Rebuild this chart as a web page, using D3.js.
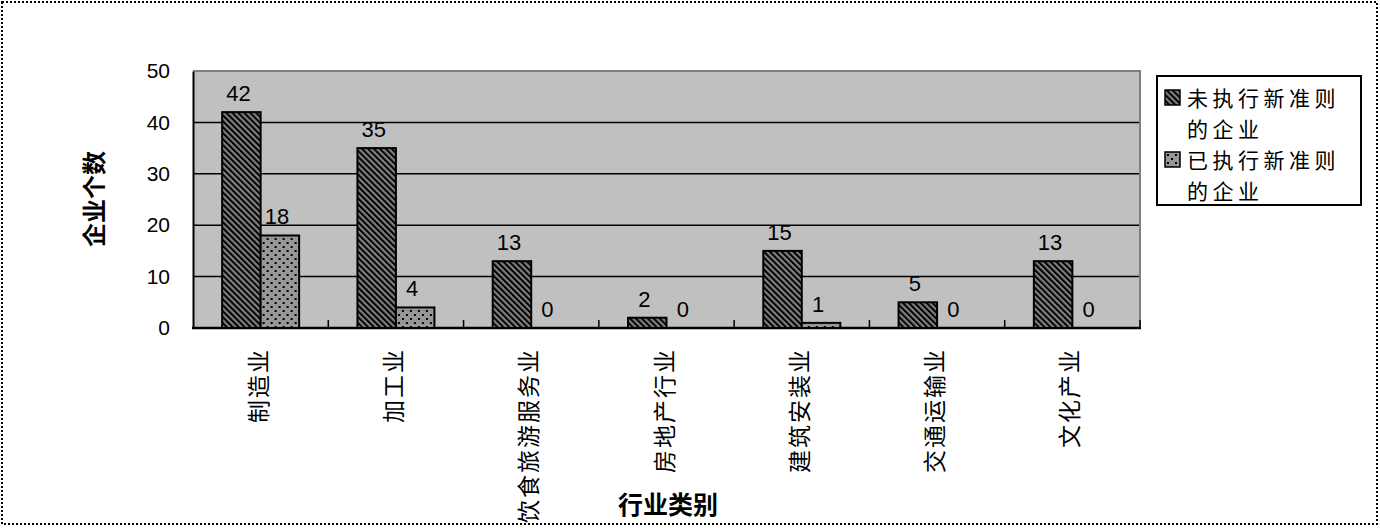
<!DOCTYPE html>
<html>
<head>
<meta charset="utf-8">
<script src="https://cdn.jsdelivr.net/npm/d3@7"></script>
<style>
  body { margin: 0; background: #fff; }
  svg { display: block; }
</style>
</head>
<body>
<div id="chart"></div>
<script>
// chart data
const categories = ["制造业", "加工业", "饮食旅游服务业", "房地产行业", "建筑安装业", "交通运输业", "文化产业"];
const seriesNames = ["未执行新准则的企业", "已执行新准则的企业"];
const notAdopted = [42, 35, 13, 2, 15, 5, 13];
const adopted = [18, 4, 0, 0, 1, 0, 0];
const yTicks = [0, 10, 20, 30, 40, 50];
const legendLines = [["未执行新准则", "的企业"], ["已执行新准则", "的企业"]];

const width = 1380, height = 528;
const plot = { left: 193, top: 71, right: 1140, bottom: 328 };
const cjk = "'Noto Sans CJK SC', 'Noto Sans', sans-serif";
const num = "'Liberation Sans', 'DejaVu Sans', sans-serif";

const svg = d3.select("#chart").append("svg")
  .attr("width", width)
  .attr("height", height);

// patterns for the bars
const defs = svg.append("defs");
const hatch = defs.append("pattern")
  .attr("id", "hatch")
  .attr("patternUnits", "userSpaceOnUse")
  .attr("width", 4.2).attr("height", 10)
  .attr("patternTransform", "rotate(-45)");
hatch.append("rect").attr("width", 4.2).attr("height", 10).attr("fill", "#808080");
hatch.append("rect").attr("width", 2).attr("height", 10).attr("fill", "#000");

const dots = defs.append("pattern")
  .attr("id", "dots")
  .attr("patternUnits", "userSpaceOnUse")
  .attr("width", 8).attr("height", 8);
dots.append("rect").attr("width", 8).attr("height", 8).attr("fill", "#969696");
dots.append("rect").attr("x", 2).attr("y", 2).attr("width", 2).attr("height", 2).attr("fill", "#000");
dots.append("rect").attr("x", 6).attr("y", 6).attr("width", 2).attr("height", 2).attr("fill", "#000");

const fills = ["url(#hatch)", "url(#dots)"];

// outer dotted frame
svg.append("rect")
  .attr("x", 2).attr("y", 2)
  .attr("width", width - 5).attr("height", height - 6)
  .attr("fill", "none")
  .attr("stroke", "#000")
  .attr("stroke-width", 2)
  .attr("stroke-dasharray", "2,2");

// scales
const x = d3.scaleBand()
  .domain(categories)
  .range([plot.left, plot.right])
  .padding(0);

const xSub = d3.scaleBand()
  .domain(seriesNames)
  .range([-38.5, 38.5])
  .padding(0);

const y = d3.scaleLinear()
  .domain([0, 50])
  .range([plot.bottom, plot.top]);

// plot background
svg.append("rect")
  .attr("x", plot.left).attr("y", plot.top)
  .attr("width", plot.right - plot.left)
  .attr("height", plot.bottom - plot.top)
  .attr("fill", "#c0c0c0");

// gridlines
svg.append("g")
  .selectAll("line")
  .data(yTicks.filter(d => d > 0 && d < 50))
  .join("line")
  .attr("x1", plot.left).attr("x2", plot.right)
  .attr("y1", d => y(d)).attr("y2", d => y(d))
  .attr("stroke", "#000")
  .attr("stroke-width", 1.5);

// top and right border of plot (grey)
svg.append("path")
  .attr("d", `M${plot.left},${plot.top}H${plot.right}V${plot.bottom}`)
  .attr("fill", "none")
  .attr("stroke", "#808080")
  .attr("stroke-width", 2);

// y axis
const yAxis = d3.axisLeft(y)
  .tickValues(yTicks)
  .tickSize(0)
  .tickPadding(23);
const gy = svg.append("g")
  .attr("transform", `translate(${plot.left},0)`)
  .call(yAxis);
gy.select(".domain").attr("stroke", "#000").attr("stroke-width", 2);
gy.selectAll("text")
  .attr("font-family", num)
  .attr("font-size", 21)
  .attr("fill", "#000");

// x axis: inward ticks at band boundaries
const gx = svg.append("g");
gx.append("line")
  .attr("x1", plot.left - 1).attr("x2", plot.right + 1)
  .attr("y1", plot.bottom).attr("y2", plot.bottom)
  .attr("stroke", "#000")
  .attr("stroke-width", 2.5);
gx.selectAll(".tick")
  .data(categories.slice(1))
  .join("line")
  .attr("class", "tick")
  .attr("x1", d => x(d)).attr("x2", d => x(d))
  .attr("y1", plot.bottom).attr("y2", plot.bottom - 8)
  .attr("stroke", "#000")
  .attr("stroke-width", 1.5);
gx.append("line")
  .attr("x1", plot.right).attr("x2", plot.right)
  .attr("y1", plot.bottom).attr("y2", plot.bottom - 8)
  .attr("stroke", "#000")
  .attr("stroke-width", 1.5);

// category labels (rotated)
svg.append("g")
  .selectAll("text")
  .data(categories)
  .join("text")
  .attr("transform", d => `translate(${x(d) + x.bandwidth() / 2 - 4},348) rotate(-90)`)
  .attr("text-anchor", "end")
  .attr("dominant-baseline", "central")
  .attr("font-family", cjk)
  .attr("font-size", 23)
  .attr("letter-spacing", 2)
  .attr("fill", "#000")
  .text(d => d);

// bars
const rows = categories.map((c, i) => ({ cat: c, values: [notAdopted[i], adopted[i]] }));
const groups = svg.append("g")
  .selectAll("g")
  .data(rows)
  .join("g")
  .attr("transform", d => `translate(${x(d.cat) + x.bandwidth() / 2},0)`);

groups.selectAll("rect")
  .data(d => d.values.map((v, j) => ({ s: seriesNames[j], v, j })))
  .join("rect")
  .attr("x", d => xSub(d.s))
  .attr("y", d => y(d.v))
  .attr("width", xSub.bandwidth())
  .attr("height", d => y(0) - y(d.v))
  .attr("fill", d => fills[d.j])
  .attr("stroke", "#000")
  .attr("stroke-width", d => d.v > 0 ? 2 : 0);

groups.selectAll("text")
  .data(d => d.values.map((v, j) => ({ s: seriesNames[j], v, j })))
  .join("text")
  .attr("x", d => xSub(d.s) + xSub.bandwidth() / 2 - 3)
  .attr("y", d => y(d.v) - 11)
  .attr("text-anchor", "middle")
  .attr("font-family", num)
  .attr("font-size", 22)
  .attr("fill", "#000")
  .text(d => d.v);

// axis titles
svg.append("text")
  .attr("transform", "translate(92,199) rotate(-90)")
  .attr("text-anchor", "middle")
  .attr("dominant-baseline", "central")
  .attr("font-family", cjk)
  .attr("font-size", 24)
  .attr("font-weight", "bold")
  .text("企业个数");

svg.append("text")
  .attr("x", 668).attr("y", 503)
  .attr("text-anchor", "middle")
  .attr("dominant-baseline", "central")
  .attr("font-family", cjk)
  .attr("font-size", 25)
  .attr("font-weight", "bold")
  .text("行业类别");

// legend
const legend = svg.append("g");
legend.append("rect")
  .attr("x", 1157).attr("y", 76)
  .attr("width", 204).attr("height", 129)
  .attr("fill", "#fff")
  .attr("stroke", "#000")
  .attr("stroke-width", 2);

const legendItems = legend.selectAll("g")
  .data(seriesNames)
  .join("g")
  .attr("transform", (d, i) => `translate(1165,${90 + i * 62})`);

legendItems.append("rect")
  .attr("width", 15).attr("height", 15)
  .attr("fill", (d, i) => fills[i])
  .attr("stroke", "#000")
  .attr("stroke-width", 1.5);

legendItems.each(function(d, i) {
  d3.select(this).selectAll("text")
    .data(legendLines[i])
    .join("text")
    .attr("x", 22)
    .attr("y", (t, k) => 7 + k * 30.5)
    .attr("dominant-baseline", "central")
    .attr("font-family", cjk)
    .attr("font-size", 21)
    .attr("letter-spacing", 4.5)
    .attr("fill", "#000")
    .text(t => t);
});
</script>
</body>
</html>
